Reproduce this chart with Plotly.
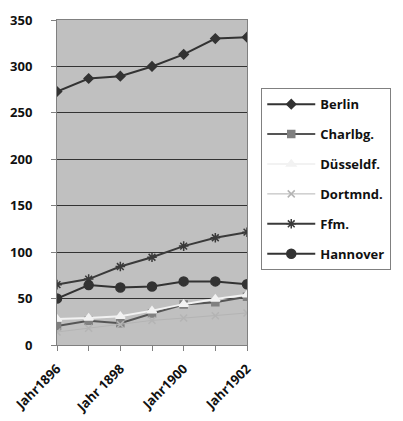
import plotly.graph_objects as go

categories = ["Jahr1896", "Jahr1897", "Jahr 1898", "Jahr1899", "Jahr1900", "Jahr1901", "Jahr1902"]
tick_labels = ["Jahr1896", "", "Jahr 1898", "", "Jahr1900", "", "Jahr1902"]

berlin = [273, 287, 289.5, 300, 313, 330, 331.5]
charlbg = [20.5, 26, 23.5, 34, 43.5, 46, 52]
duesseldf = [28, 29, 31, 37, 44, 49.5, 54]
dortmnd = [14, 18, 22, 26.5, 29, 31.5, 34.5]
ffm = [65, 71, 84.5, 94.5, 106.5, 115.5, 121.5]
hannover = [50, 64.5, 62, 63, 68.5, 68.5, 65.5]

series = [
    ("Berlin", berlin, "#333333", "diamond", 7, "#333333", 2),
    ("Charlbg.", charlbg, "#555555", "square", 7, "#808080", 2),
    ("Düsseldf.", duesseldf, "#f2f2f2", "triangle-up", 8, "#f2f2f2", 2),
    ("Dortmnd.", dortmnd, "#b4b4b4", "x-thin-open", 7, "#b4b4b4", 1),
    ("Ffm.", ffm, "#3a3a3a", "asterisk-open", 8, "#3a3a3a", 2),
    ("Hannover", hannover, "#333333", "circle", 9, "#333333", 2),
]

font = dict(family="Open Sans", size=13, color="#111111", weight="bold")

fig = go.Figure()
for i, (name, vals, lc, sym, ms, mc, lw) in enumerate(series):
    fig.add_trace(go.Scatter(
        x=categories, y=vals, name=name, mode="lines+markers",
        line=dict(color=lc, width=lw),
        marker=dict(symbol=sym, size=ms, color=mc, line=dict(color=mc, width=1.5)),
        legendgroup=f"g{i}",
    ))

fig.update_layout(
    width=395, height=413,
    margin=dict(l=49, r=154, t=12, b=76),
    paper_bgcolor="white",
    plot_bgcolor="#c0c0c0",
    font=font,
    showlegend=True,
    legend=dict(
        x=1.075, y=0.79, xanchor="left", yanchor="top",
        bgcolor="white", bordercolor="#808080", borderwidth=1,
        font=dict(family="Open Sans", size=13, color="#111111", weight="bold"),
        tracegroupgap=10, itemwidth=48,
    ),
    xaxis=dict(
        type="category", range=[0, 6], automargin=False,
        tickmode="array", tickvals=categories, ticktext=tick_labels,
        tickangle=-45, ticks="outside", ticklen=5, tickcolor="#808080",
        showgrid=False, showline=True, linecolor="#808080", linewidth=1,
        mirror=True, zeroline=False, ticklabelstandoff=5,
    ),
    yaxis=dict(
        range=[0, 350], tickvals=[0, 50, 100, 150, 200, 250, 300, 350],
        automargin=False,
        ticks="outside", ticklen=5, tickcolor="#808080",
        showgrid=True, gridcolor="#333333", gridwidth=1,
        showline=True, linecolor="#808080", linewidth=1, mirror=True,
        zeroline=False, ticklabelstandoff=16,
    ),
)

fig.write_html("out.html")
